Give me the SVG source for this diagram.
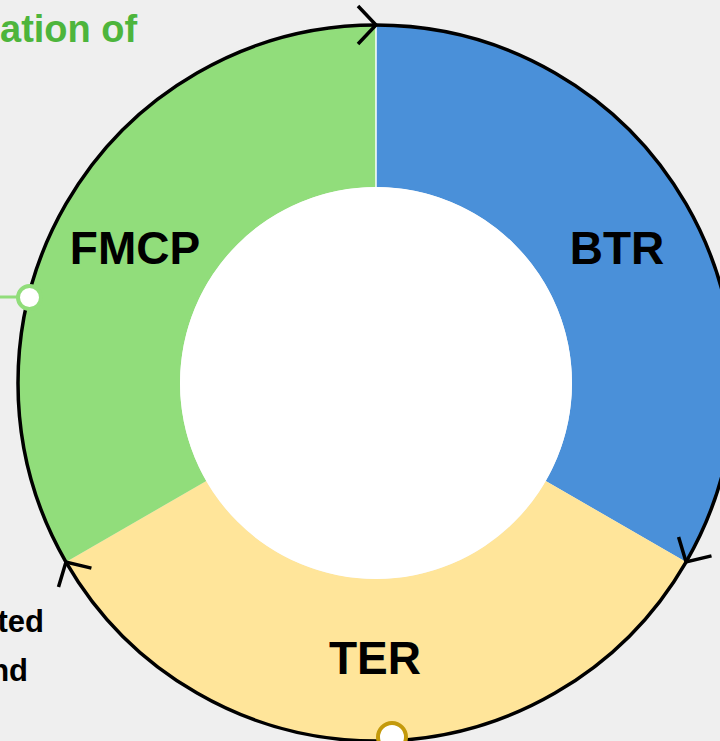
<svg xmlns="http://www.w3.org/2000/svg" width="720" height="741" viewBox="0 0 720 741">
<defs>
<style>
.lbl{font-family:"Liberation Sans",Arial,sans-serif;font-weight:bold;fill:#000}
.big{font-size:46px}
.side{font-size:31px}
.ring{fill:none;stroke:#000;stroke-width:3.5}
</style>
<marker id="chev" markerUnits="userSpaceOnUse" markerWidth="40" markerHeight="40" viewBox="-20 -20 40 40" refX="0" refY="0" orient="auto" overflow="visible">
<path d="M-18,-19 L0,0 L-18,19" fill="none" stroke="#000" stroke-width="3.5"/>
</marker>
</defs>
<rect width="720" height="741" fill="#efefef"/>
<g id="blue-segment">
<path d="M376,25 A358,358 0 0 1 686.04,562 L545.74,481 A196,196 0 0 0 376,187 Z" fill="#4a90d9"/>
<text class="lbl big" x="617" y="264" text-anchor="middle">BTR</text>
</g>
<g id="yellow-segment">
<path d="M686.04,562 A358,358 0 0 1 65.96,562 L206.26,481 A196,196 0 0 0 545.74,481 Z" fill="#ffe59a"/>
<text class="lbl big" x="375" y="674" text-anchor="middle">TER</text>
</g>
<g id="green-segment">
<path d="M65.96,562 A358,358 0 0 1 376,25 L376,187 A196,196 0 0 0 206.26,481 Z" fill="#91dd7b"/>
<text class="lbl big" x="135" y="264" text-anchor="middle">FMCP</text>
</g>
<g id="hole">
<circle cx="376" cy="383" r="196" fill="#fff"/>
</g>
<line x1="376" y1="25" x2="376" y2="187" stroke="#fff" stroke-width="1.5"/>
<g id="connectors">
<path class="ring" d="M376,25 A358,358 0 0 1 686.04,562" marker-end="url(#chev)"/>
<path class="ring" d="M686.04,562 A358,358 0 0 1 65.96,562" marker-end="url(#chev)"/>
<path class="ring" d="M65.96,562 A358,358 0 0 1 376,25" marker-end="url(#chev)"/>
<line x1="0" y1="297" x2="18" y2="297" stroke="#91dd7b" stroke-width="3"/>
</g>
<g id="port-left">
<circle cx="29.5" cy="297.5" r="11.5" fill="#fff" stroke="#91dd7b" stroke-width="4"/>
</g>
<g id="port-bottom">
<circle cx="392" cy="737" r="14" fill="#fff" stroke="#c49a0c" stroke-width="4"/>
</g>
<g id="title">
<text class="lbl" x="0" y="42" style="font-size:38px;fill:#4db53c">ation of</text>
</g>
<g id="side-text">
<text class="lbl side" x="44" y="632" text-anchor="end">ted</text>
<text class="lbl side" x="28" y="681" text-anchor="end">nd</text>
</g>
</svg>
